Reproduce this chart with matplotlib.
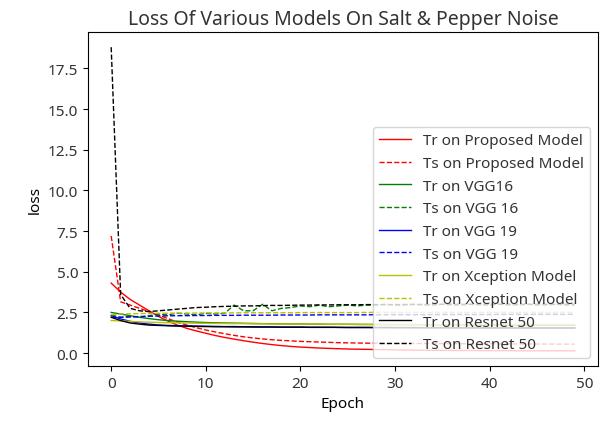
import matplotlib
matplotlib.use("Agg")
import matplotlib.pyplot as plt
import numpy as np

epochs = list(range(50))

tr_proposed = [4.3, 3.75, 3.3, 2.95, 2.6, 2.25, 1.97, 1.72, 1.52, 1.36,
               1.22, 1.08, 0.96, 0.86, 0.76, 0.67, 0.59, 0.52, 0.46, 0.41,
               0.37, 0.34, 0.31, 0.29, 0.27, 0.25, 0.24, 0.23, 0.22, 0.21,
               0.20, 0.19, 0.18, 0.18, 0.17, 0.17, 0.16, 0.16, 0.16, 0.15,
               0.15, 0.15, 0.15, 0.14, 0.14, 0.14, 0.14, 0.14, 0.14, 0.14]
ts_proposed = [7.2, 3.15, 2.95, 2.75, 2.55, 2.35, 2.12, 1.9, 1.72, 1.56,
               1.42, 1.30, 1.19, 1.09, 1.00, 0.93, 0.87, 0.82, 0.78, 0.75,
               0.72, 0.70, 0.68, 0.66, 0.64, 0.63, 0.62, 0.61, 0.61, 0.60,
               0.60, 0.60, 0.59, 0.59, 0.59, 0.58, 0.58, 0.58, 0.58, 0.57,
               0.57, 0.57, 0.57, 0.56, 0.56, 0.56, 0.56, 0.55, 0.55, 0.55]
tr_vgg16 = [2.5, 2.4, 2.3, 2.2, 2.12, 2.05, 2.0, 1.96, 1.93, 1.9,
            1.88, 1.86, 1.85, 1.84, 1.83, 1.82, 1.81, 1.8, 1.8, 1.79,
            1.79, 1.78, 1.78, 1.77, 1.77, 1.77, 1.76, 1.76, 1.76, 1.75,
            1.75, 1.75, 1.75, 1.74, 1.74, 1.74, 1.74, 1.73, 1.73, 1.73,
            1.73, 1.73, 1.72, 1.72, 1.72, 1.72, 1.72, 1.72, 1.72, 1.72]
ts_vgg16 = [2.35, 2.2, 2.25, 2.2, 2.3, 2.4, 2.35, 2.45, 2.4, 2.35,
            2.45, 2.4, 2.45, 2.95, 2.6, 2.6, 3.0, 2.6, 2.75, 2.8,
            2.9, 2.85, 2.95, 2.85, 2.9, 2.95, 2.9, 2.95, 2.95, 3.0,
            2.95, 2.95, 3.0, 2.95, 2.95, 3.0, 2.95, 2.95, 3.0, 2.95,
            2.95, 3.0, 2.95, 2.95, 3.0, 2.95, 2.95, 3.0, 2.95, 2.95]
tr_vgg19 = [2.3, 2.1, 1.95, 1.85, 1.78, 1.73, 1.7, 1.68, 1.67, 1.66,
            1.65, 1.64, 1.63, 1.63, 1.62, 1.62, 1.61, 1.61, 1.6, 1.6,
            1.6, 1.59, 1.59, 1.59, 1.58, 1.58, 1.58, 1.58, 1.57, 1.57,
            1.57, 1.57, 1.57, 1.56, 1.56, 1.56, 1.56, 1.56, 1.56, 1.55,
            1.55, 1.55, 1.55, 1.55, 1.55, 1.55, 1.55, 1.55, 1.55, 1.55]
ts_vgg19 = [2.2, 2.2, 2.22, 2.25, 2.26, 2.28, 2.29, 2.3, 2.3, 2.31,
            2.31, 2.32, 2.32, 2.32, 2.33, 2.33, 2.33, 2.33, 2.34, 2.34,
            2.34, 2.34, 2.35, 2.35, 2.35, 2.35, 2.35, 2.35, 2.36, 2.36,
            2.36, 2.36, 2.36, 2.36, 2.37, 2.37, 2.37, 2.37, 2.37, 2.37,
            2.37, 2.38, 2.38, 2.38, 2.38, 2.38, 2.38, 2.38, 2.38, 2.38]
tr_xception = [2.0, 1.98, 1.95, 1.92, 1.9, 1.88, 1.87, 1.86, 1.85, 1.84,
               1.83, 1.82, 1.82, 1.81, 1.81, 1.8, 1.8, 1.79, 1.79, 1.79,
               1.78, 1.78, 1.78, 1.77, 1.77, 1.77, 1.77, 1.76, 1.76, 1.76,
               1.76, 1.76, 1.75, 1.75, 1.75, 1.75, 1.75, 1.75, 1.75, 1.75,
               1.75, 1.75, 1.75, 1.75, 1.75, 1.75, 1.75, 1.75, 1.75, 1.75]
ts_xception = [2.35, 2.4, 2.42, 2.43, 2.44, 2.45, 2.45, 2.46, 2.46, 2.46,
               2.47, 2.47, 2.47, 2.47, 2.48, 2.48, 2.48, 2.48, 2.48, 2.48,
               2.49, 2.49, 2.49, 2.49, 2.49, 2.49, 2.49, 2.5, 2.5, 2.5,
               2.5, 2.5, 2.5, 2.5, 2.5, 2.5, 2.5, 2.5, 2.5, 2.5,
               2.5, 2.5, 2.5, 2.5, 2.5, 2.5, 2.5, 2.5, 2.5, 2.5]
tr_resnet = [2.2, 2.0, 1.85, 1.78, 1.72, 1.7, 1.68, 1.66, 1.65, 1.64,
             1.63, 1.62, 1.62, 1.61, 1.61, 1.6, 1.6, 1.6, 1.59, 1.59,
             1.59, 1.58, 1.58, 1.58, 1.58, 1.57, 1.57, 1.57, 1.57, 1.57,
             1.56, 1.56, 1.56, 1.56, 1.56, 1.56, 1.55, 1.55, 1.55, 1.55,
             1.55, 1.55, 1.55, 1.54, 1.54, 1.54, 1.54, 1.54, 1.54, 1.54]
ts_resnet = [18.8, 3.6, 2.75, 2.6, 2.55, 2.6, 2.65, 2.7, 2.75, 2.8,
             2.82, 2.85, 2.87, 2.88, 2.9, 2.9, 2.92, 2.93, 2.93, 2.94,
             2.95, 2.95, 2.96, 2.96, 2.97, 2.97, 2.97, 2.98, 2.98, 2.98,
             2.98, 2.99, 2.99, 2.99, 2.99, 3.0, 3.0, 3.0, 3.0, 3.0,
             3.0, 3.0, 3.0, 3.0, 3.0, 3.0, 3.0, 3.0, 3.0, 3.0]

series = [
    (tr_proposed, 'r', '-', 'Tr on Proposed Model'),
    (ts_proposed, 'r', '--', 'Ts on Proposed Model'),
    (tr_vgg16, 'g', '-', 'Tr on VGG16'),
    (ts_vgg16, 'g', '--', 'Ts on VGG 16'),
    (tr_vgg19, 'b', '-', 'Tr on VGG 19'),
    (ts_vgg19, 'b', '--', 'Ts on VGG 19'),
    (tr_xception, 'y', '-', 'Tr on Xception Model'),
    (ts_xception, 'y', '--', 'Ts on Xception Model'),
    (tr_resnet, 'k', '-', 'Tr on Resnet 50'),
    (ts_resnet, 'k', '--', 'Ts on Resnet 50'),
]

plt.rcParams['font.family'] = ['Noto Sans', 'DejaVu Sans']
plt.rcParams['text.color'] = '#333333'
plt.rcParams['xtick.labelcolor'] = '#333333'
plt.rcParams['ytick.labelcolor'] = '#333333'

fig = plt.figure(figsize=(6.08, 4.27), dpi=100)
ax = fig.add_axes([88/608, (427-367)/427, 510/608, 334/427])
for vals, c, ls, lab in series:
    ax.plot(epochs, vals, color=c, linestyle=ls, linewidth=1, label=lab)

ax.set_title('Loss Of Various Models On Salt & Pepper Noise', fontsize=14)
ax.set_xlabel('Epoch', fontsize=11)
ax.set_ylabel('loss', fontsize=11)
ax.set_yticks([0, 2.5, 5, 7.5, 10, 12.5, 15, 17.5])
ax.tick_params(labelsize=11)
ax.legend(loc='lower right', fontsize=11, handlelength=2.1)
fig.savefig('out.png', dpi=100)
